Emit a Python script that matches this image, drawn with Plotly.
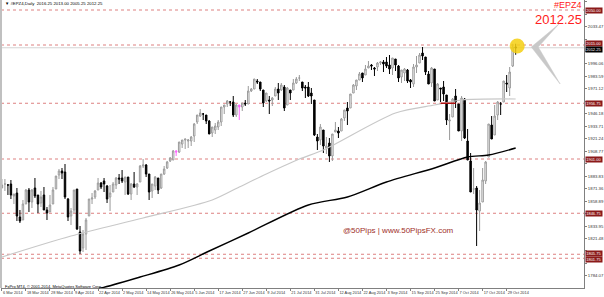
import plotly.graph_objects as go

# ---------------- data ----------------
opens = [1872,1876,1875,1876,1864,1867,1843,1840,1856,1870,1858,1872,1865,1857,1865,1850,1848,1856,1871,1885,
         1889,1888,1861,1844,1850,1871,1828,1812,1826,1844,1861,1863,1870,1877,1879,1874,1863,1868,1875,1882,
         1882,1878,1883,1866,1876,1873,1878,1894,1895,1886,1869,1874,1882,1872,1886,1892,1899,1900,1909,1908,
         1916,1920,1919,1919,1924,1938,1944,1946,1945,1939,1927,1930,1933,1938,1953,1956,1958,1958,1945,1955,
         1953,1957,1956,1969,1971,1979,1978,1970,1959,1960,1960,1964,1971,1970,1973,1955,1970,1970,1977,1982,
         1978,1973,1973,1967,1960,1923,1920,1930,1912,1917,1904,1928,1929,1929,1942,1952,1952,1967,1974,1980,
         1987,1985,1992,1995,1992,1993,1997,1998,1998,1995,1992,2001,1994,1983,1987,1990,1980,1976,1993,1997,
         2007,2003,1986,1977,1991,1960,1972,1973,1965,1939,1943,1964,1956,1929,1961,1919,1899,1871,1872,1849,
         1858,1879,1903,1935,1925,1945,1956,1958,1977,1972,1994,2013]
highs = [1881,1881,1876,1880,1866,1872,1850,1860,1871,1872,1871,1882,1865,1869,1873,1853,1865,1873,1884,1891,
         1892,1896,1862,1852,1870,1871,1834,1830,1842,1861,1867,1870,1882,1878,1882,1875,1875,1878,1883,1886,
         1890,1883,1883,1877,1888,1877,1895,1901,1896,1886,1876,1884,1882,1886,1894,1899,1903,1910,1910,1918,
         1920,1921,1921,1924,1937,1945,1951,1947,1945,1940,1933,1937,1940,1953,1955,1960,1959,1964,1956,1955,
         1957,1960,1974,1972,1981,1981,1978,1970,1967,1964,1963,1973,1977,1977,1975,1973,1970,1981,1983,1985,
         1978,1975,1978,1972,1960,1926,1936,1930,1923,1922,1926,1938,1933,1942,1950,1958,1966,1976,1980,1988,
         1987,1995,1999,1996,1993,1998,1999,2000,2003,2005,2002,2001,1995,1990,1992,1991,1981,1996,2004,2007,
         2013,2003,1989,1993,1991,1977,1972,1979,1965,1946,1962,1971,1956,1964,1962,1931,1907,1892,1874,1870,
         1892,1899,1936,1944,1955,1959,1958,1979,1985,1993,2016.25,2016.25]
lows = [1872,1869,1865,1861,1856,1839,1837,1840,1856,1848,1852,1862,1847,1853,1850,1840,1848,1856,1871,1881,
        1881,1861,1839,1835,1847,1830,1806,1808,1810,1844,1856,1861,1870,1871,1868,1857,1849,1868,1871,1876,
        1877,1865,1865,1860,1872,1865,1878,1892,1883,1860,1862,1870,1866,1871,1885,1891,1898,1900,1904,1907,
        1912,1911,1912,1914,1918,1936,1943,1940,1936,1926,1923,1926,1930,1934,1946,1953,1954,1943,1943,1940,
        1949,1954,1956,1968,1971,1976,1969,1953,1958,1946,1954,1964,1960,1969,1949,1955,1960,1970,1976,1979,
        1969,1962,1963,1956,1924,1910,1915,1907,1906,1898,1899,1928,1922,1929,1939,1935,1952,1967,1970,1980,
        1978,1985,1992,1990,1984,1989,1995,1988,1992,1986,1985,1989,1978,1977,1979,1977,1972,1973,1987,1997,
        2000,1985,1976,1973,1959,1960,1958,1959,1935,1920,1943,1952,1929,1919,1921,1900,1868,1866,1814,1829,
        1858,1876,1903,1921,1925,1940,1945,1958,1968,1964,1993,2005.25]
closes = [1875,1876,1875,1865,1866,1844,1839,1856,1870,1858,1870,1864,1856,1863,1850,1847,1855,1870,1884,1889,
          1887,1863,1843,1849,1870,1831,1809,1826,1840,1861,1862,1869,1877,1873,1876,1861,1867,1876,1882,1881,
          1879,1883,1866,1876,1873,1876,1894,1895,1886,1868,1876,1883,1870,1886,1891,1898,1902,1909,1908,1918,
          1920,1921,1920,1923,1936,1945,1947,1946,1939,1926,1933,1934,1938,1953,1955,1959,1958,1945,1955,1953,
          1957,1956,1969,1971,1981,1978,1971,1957,1967,1959,1962,1971,1967,1975,1952,1972,1967,1977,1981,1982,
          1972,1972,1964,1964,1925,1919,1933,1914,1914,1904,1926,1930,1927,1941,1950,1949,1966,1975,1980,1986,
          1982,1991,1994,1994,1991,1997,1998,1996,1994,1991,2002,1995,1982,1990,1991,1979,1978,1993,1995,2005,
          2004,1988,1976,1992,1959,1976,1971,1966,1940,1940,1961,1958,1929,1962,1922,1900,1868,1871,1850,1857,
          1880,1898,1936,1921,1944,1958,1956,1979,1976,1988,2013,2012.25]
bar_index = list(range(len(closes)))
pink_bars = [58, 79]

date_ticks = [0, 8, 16, 24, 32, 40, 48, 56, 64, 72, 80, 88, 96, 104, 112, 120, 128, 136, 144, 152, 160, 168]
date_labels = ["6 Mar 2014", "18 Mar 2014", "28 Mar 2014", "9 Apr 2014", "22 Apr 2014", "2 May 2014",
               "14 May 2014", "26 May 2014", "5 Jun 2014", "17 Jun 2014", "27 Jun 2014", "9 Jul 2014",
               "21 Jul 2014", "31 Jul 2014", "12 Aug 2014", "22 Aug 2014", "3 Sep 2014", "15 Sep 2014",
               "25 Sep 2014", "7 Oct 2014", "17 Oct 2014", "29 Oct 2014"]

price_ticks = [1771.60, 1784.07, 1796.54, 1809.01, 1821.48, 1833.95, 1846.42, 1858.89, 1871.36, 1883.83,
               1896.30, 1908.77, 1921.24, 1933.71, 1946.18, 1958.65, 1971.12, 1983.59, 1996.06, 2008.53,
               2021.00, 2033.47, 2045.94, 2058.41]

# moving averages (bar index, value)
ma_slow_idx = [0, 23, 47, 70, 79, 88, 99, 107, 131, 144, 153, 171]
ma_slow_val = [1803, 1824, 1842, 1860, 1873, 1886, 1901, 1910, 1947, 1955, 1960, 1961]
ma_long_idx = [15, 33, 46, 59, 69, 82, 102, 115, 128, 144, 155, 162, 171]
ma_long_val = [1762, 1772, 1783, 1795, 1809, 1827, 1855, 1863, 1878, 1892, 1903, 1905, 1912]

level_lines = [2050.00, 2015.00, 1956.75, 1901.00, 1846.75, 1805.75, 1801.75]
level_shift = [0, 1.6, 0, 0, 0, 1.0, -1.0]
bid_price = 2012.25
segment_idx = [146, 151]
segment_val = [1956.75, 1956.75]

FONT = "Liberation Sans"

# price labels hidden behind the level boxes (as on the reference)
boxed = level_lines + [bid_price]
price_text = ["" if any(abs(v - b) < 6.5 for b in boxed) else "%.2f" % v for v in price_ticks]

# ---------------- figure ----------------
fig = go.Figure()

main_idx = [i for i in bar_index if i not in pink_bars]
fig.add_trace(go.Candlestick(
    x=main_idx,
    open=[opens[i] for i in main_idx], high=[highs[i] for i in main_idx],
    low=[lows[i] for i in main_idx], close=[closes[i] for i in main_idx],
    increasing=dict(line=dict(color="#9a9a9a", width=1), fillcolor="#ffffff"),
    decreasing=dict(line=dict(color="#000000", width=1), fillcolor="#000000"),
    whiskerwidth=0, showlegend=False, hoverinfo="skip"))
fig.add_trace(go.Candlestick(
    x=pink_bars,
    open=[opens[i] for i in pink_bars], high=[highs[i] for i in pink_bars],
    low=[lows[i] for i in pink_bars], close=[closes[i] for i in pink_bars],
    increasing=dict(line=dict(color="#ff66ff", width=1), fillcolor="#ff66ff"),
    decreasing=dict(line=dict(color="#ff66ff", width=1), fillcolor="#ff66ff"),
    whiskerwidth=0, showlegend=False, hoverinfo="skip"))

fig.add_trace(go.Scatter(x=ma_slow_idx, y=ma_slow_val, mode="lines",
                         line=dict(color="#c8c8c8", width=1.2, shape="spline", smoothing=0.8),
                         showlegend=False, hoverinfo="skip"))
fig.add_trace(go.Scatter(x=ma_long_idx, y=ma_long_val, mode="lines",
                         line=dict(color="#000000", width=1.4, shape="spline", smoothing=0.8),
                         showlegend=False, hoverinfo="skip"))
fig.add_trace(go.Scatter(x=segment_idx, y=segment_val, mode="lines",
                         line=dict(color="#b01010", width=1.5),
                         showlegend=False, hoverinfo="skip"))

shapes = []
for lv in level_lines:
    shapes.append(dict(type="line", xref="paper", x0=0, x1=1, yref="y", y0=lv, y1=lv,
                       line=dict(color="#dd8080", width=1, dash="dot"), layer="below"))
shapes.append(dict(type="line", xref="paper", x0=0, x1=1, yref="y", y0=bid_price, y1=bid_price,
                   line=dict(color="#d4d4d4", width=1), layer="below"))
# left frame edge
shapes.append(dict(type="line", xref="paper", x0=0, x1=0, yref="paper", y0=0, y1=1,
                   line=dict(color="#c0c0c0", width=2)))
# grey chevron arrow
shapes.append(dict(type="path", xref="x", yref="y",
                   path="M 185.4 2036 L 176.2 2013 L 185.8 1976 L 178.5 2013 Z",
                   fillcolor="#c8c8c8", line=dict(color="#c8c8c8", width=0.5)))
# yellow highlight
shapes.append(dict(type="circle", xref="x", yref="y", x0=169.0, x1=174.0, y0=2006.5, y1=2021.5,
                   fillcolor="#f5cf10", line=dict(color="#f5cf10", width=0), opacity=0.85, layer="above"))

annotations = []
for lv, sh in zip(level_lines, level_shift):
    annotations.append(dict(xref="paper", x=1.0, xanchor="left", xshift=1, yref="y", y=lv, yshift=sh,
                            text="%.2f" % lv, showarrow=False, bgcolor="#8b1a1a", borderpad=0.2,
                            font=dict(family=FONT, size=4, color="#ffffff")))
annotations.append(dict(xref="paper", x=1.0, xanchor="left", xshift=1, yref="y", y=bid_price, yshift=-1.6,
                        text="%.2f" % bid_price, showarrow=False, bgcolor="#000000", borderpad=0.2,
                        font=dict(family=FONT, size=4, color="#ffffff")))
annotations.append(dict(xref="paper", x=1.0, xanchor="right", yref="paper", y=0.983, yanchor="middle",
                        text="#EPZ4", showarrow=False, font=dict(family=FONT, size=9, color="#ff2020")))
annotations.append(dict(xref="paper", x=1.0, xanchor="right", yref="paper", y=0.931, yanchor="middle",
                        text="2012.25", showarrow=False, font=dict(family=FONT, size=13, color="#ff2020")))
annotations.append(dict(xref="paper", x=0.003, xanchor="left", yref="paper", y=0.987, yanchor="middle",
                        text="▼ #EPZ4,Daily  2016.25 2013.00 2005.25 2012.25", showarrow=False,
                        font=dict(family=FONT, size=4.3, color="#000000")))
annotations.append(dict(xref="paper", x=0.003, xanchor="left", yref="paper", y=0.006, yanchor="middle",
                        text="FxPro MT4, © 2001-2014, MetaQuotes Software Corp.", showarrow=False,
                        font=dict(family=FONT, size=4, color="#000000")))
annotations.append(dict(xref="paper", x=0.681, xanchor="center", yref="paper", y=0.198, yanchor="middle",
                        text="@50Pips | www.50PipsFX.com", showarrow=False,
                        font=dict(family=FONT, size=8, color="#a03028")))

fig.update_layout(
    width=604, height=297,
    margin=dict(l=1, r=17, t=0, b=9),
    paper_bgcolor="#ffffff", plot_bgcolor="#ffffff",
    showlegend=False,
    shapes=shapes, annotations=annotations,
    xaxis=dict(range=[-0.3, 193.74], rangeslider=dict(visible=False), showgrid=False, zeroline=False,
               tickmode="array", tickvals=date_ticks, ticktext=date_labels, tickangle=0,
               ticklabelposition="outside right", ticks="outside", ticklen=2, tickcolor="#808080",
               showline=True, linecolor="#808080", linewidth=1,
               tickfont=dict(family=FONT, size=3.9, color="#333333")),
    yaxis=dict(range=[1772, 2060], side="right", showgrid=False, zeroline=False,
               tickmode="array", tickvals=price_ticks, ticktext=price_text,
               ticks="outside", ticklen=2, tickcolor="#808080",
               showline=True, linecolor="#808080", linewidth=1,
               tickfont=dict(family=FONT, size=4.3, color="#333333")),
)

fig.write_html("out.html")
